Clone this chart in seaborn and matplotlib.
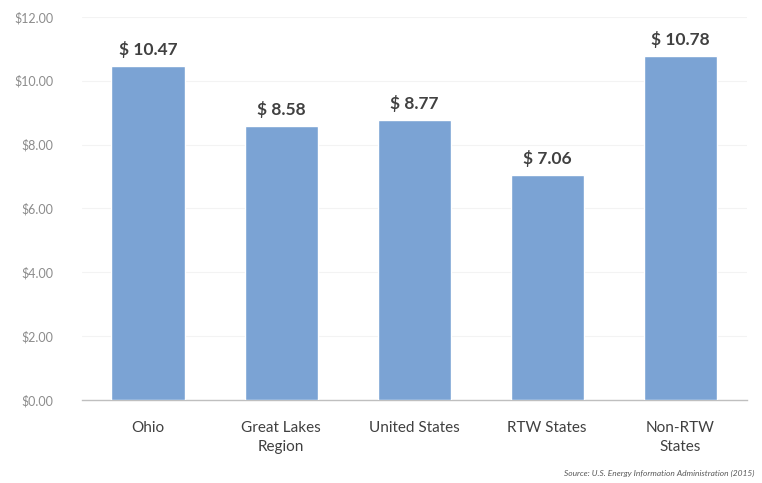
import matplotlib
matplotlib.use("Agg")
import matplotlib.pyplot as plt
import seaborn as sns
import pandas as pd

categories = ["Ohio", "Great Lakes\nRegion", "United States", "RTW States", "Non-RTW\nStates"]
costs = [10.47, 8.58, 8.77, 7.06, 10.78]
y_ticks = [0, 2, 4, 6, 8, 10, 12]
source_note = "Source: U.S. Energy Information Administration (2015)"

df = pd.DataFrame({"category": categories, "cost": costs})

sns.set_style("white")
plt.rcParams["font.family"] = ["Lato", "DejaVu Sans"]

fig = plt.figure(figsize=(7.62, 4.83), dpi=100)
ax = fig.add_axes([0.107, 0.172, 0.873, 0.793])

sns.barplot(data=df, x="category", y="cost", color="#7BA3D4", saturation=1,
            width=0.55, ax=ax, zorder=3)

ax.set_ylim(0, 12)
ax.set_xlim(-0.5, len(categories) - 0.5)
ax.set_yticks(y_ticks)
ax.set_yticklabels([f"${v:.2f}" for v in y_ticks], color="#8c8c8c", fontsize=9)
ax.tick_params(axis="y", length=0, pad=20)
ax.tick_params(axis="x", length=0, pad=15, labelsize=11, labelcolor="#404040")
for lbl in ax.get_xticklabels():
    lbl.set_linespacing(1.5)
ax.set_xlabel("")
ax.set_ylabel("")

for y in y_ticks[1:]:
    ax.axhline(y, color="#f3f3f3", lw=0.8, zorder=1)

for s in ["top", "right", "left"]:
    ax.spines[s].set_visible(False)
ax.spines["bottom"].set_color("#bfbfbf")
ax.spines["bottom"].set_linewidth(1.0)

for i, v in enumerate(costs):
    ax.text(i, v + 0.25, f"$ {v:.2f}", ha="center", va="bottom",
            fontsize=12.5, fontweight="bold", color="#404040")

fig.text(0.99, 0.012, source_note, ha="right", va="bottom", fontsize=6,
         style="italic", color="#595959")

fig.savefig("out.png", dpi=100, facecolor="white")
